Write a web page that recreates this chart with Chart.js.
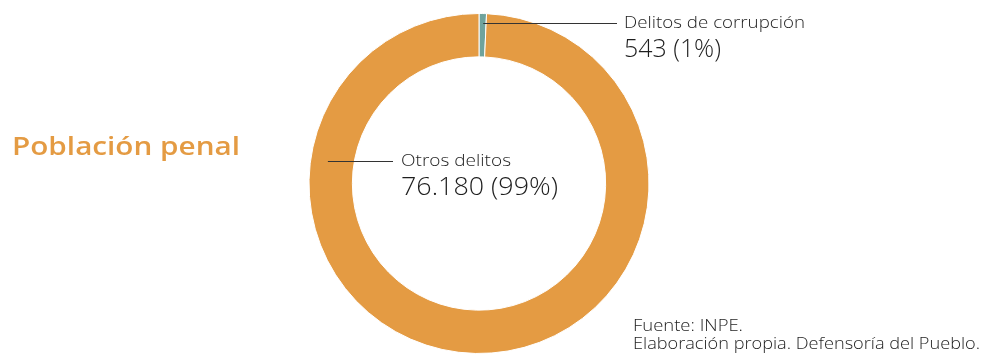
<!DOCTYPE html>
<html lang="es">
<head>
    <meta charset="UTF-8">
    <title>Población penal</title>
    <script src="https://cdn.jsdelivr.net/npm/chart.js"></script>
    <style>
        html, body { margin: 0; padding: 0; background: #fff; overflow: hidden; }
        #wrap { position: relative; width: 984px; height: 354px; }
    </style>
</head>
<body>
    <div id="wrap"><canvas id="penalChart" width="984" height="354"></canvas></div>
    <script>
        const categories = ['Delitos de corrupción', 'Otros delitos'];
        const internos = [543, 76180];
        const valueLabels = ['543 (1%)', '76.180 (99%)'];
        const sliceColors = ['#6fa39c', '#e49b43'];

        const fontFamily = '"Open Sans", "Noto Sans", sans-serif';
        const ink = '#1e1e1e';

        // leader line + two-line label for each slice (widths = rendered text widths)
        const callouts = [
            { angle: -88.5, r: 0.95, lineEnd: 617, textX: 624, y: 23, nameW: 181, valueW: 97 },
            { angle: 189, r: 0.9, lineEnd: 393, textX: 401, y: 161, nameW: 110, valueW: 157 }
        ];

        // draws text stretched horizontally to a given width
        function wideText(ctx, text, x, y, width) {
            const s = width / ctx.measureText(text).width;
            ctx.save();
            ctx.translate(x, y);
            ctx.scale(s, 1);
            ctx.fillText(text, 0, 0);
            ctx.restore();
        }

        const calloutPlugin = {
            id: 'callouts',
            afterDraw(chart) {
                const ctx = chart.ctx;
                const arc = chart.getDatasetMeta(0).data[0];
                const cx = arc.x, outer = arc.outerRadius;
                ctx.save();
                ctx.textAlign = 'left';
                ctx.textBaseline = 'alphabetic';

                callouts.forEach((c, i) => {
                    const a = c.angle * Math.PI / 180;
                    const x0 = cx + Math.cos(a) * outer * c.r;
                    ctx.strokeStyle = '#333';
                    ctx.lineWidth = 1;
                    ctx.beginPath();
                    ctx.moveTo(x0, c.y + 0.5);
                    ctx.lineTo(c.lineEnd, c.y + 0.5);
                    ctx.stroke();

                    ctx.fillStyle = ink;
                    ctx.font = '300 17px ' + fontFamily;
                    wideText(ctx, categories[i], c.textX, c.y + 5, c.nameW);
                    ctx.font = '300 26px ' + fontFamily;
                    wideText(ctx, valueLabels[i], c.textX, c.y + 34, c.valueW);
                });

                // title
                ctx.fillStyle = '#e49b43';
                ctx.font = '600 26px ' + fontFamily;
                wideText(ctx, 'Población penal', 12, 155, 228);

                // source note
                ctx.fillStyle = ink;
                ctx.font = '300 16px ' + fontFamily;
                wideText(ctx, 'Fuente: INPE.', 633, 331, 110);
                wideText(ctx, 'Elaboración propia. Defensoría del Pueblo.', 633, 349, 347);
                ctx.restore();
            }
        };

        new Chart(document.getElementById('penalChart'), {
            type: 'doughnut',
            data: {
                labels: categories,
                datasets: [{
                    data: internos,
                    backgroundColor: sliceColors,
                    borderColor: '#ffffff',
                    borderWidth: 1,
                    hoverOffset: 0
                }]
            },
            options: {
                responsive: false,
                animation: false,
                cutout: '74.5%',
                layout: { padding: { left: 306, right: 332, top: 13, bottom: -4 } },
                plugins: {
                    legend: { display: false },
                    tooltip: { enabled: false }
                }
            },
            plugins: [calloutPlugin]
        });
    </script>
</body>
</html>
